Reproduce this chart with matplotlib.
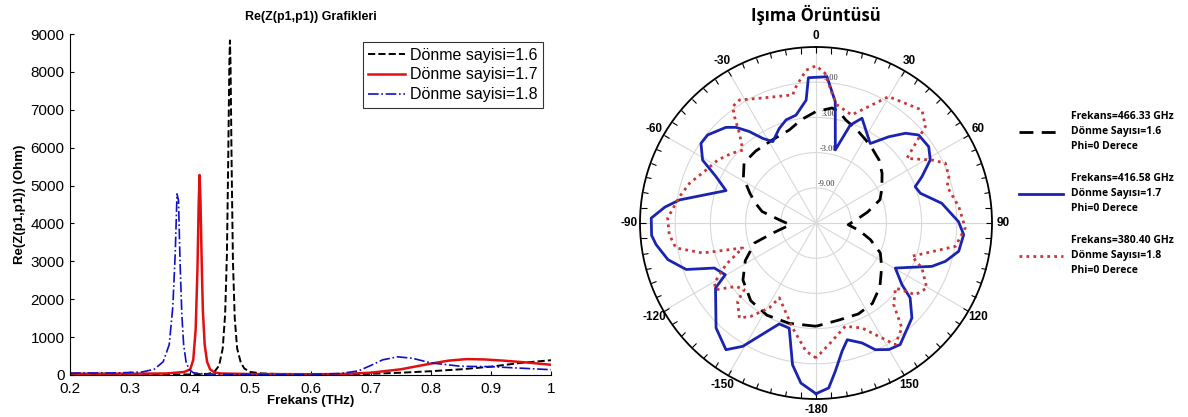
import numpy as np
import matplotlib.pyplot as plt

# --- left panel: Re(Z(p1,p1)) vs frequency (THz) ---
freq_16 = [0.2, 0.3, 0.4, 0.43, 0.44, 0.448, 0.454, 0.458, 0.461, 0.463,
           0.465, 0.466, 0.467, 0.469, 0.471, 0.474, 0.478, 0.484, 0.49, 0.5,
           0.52, 0.55, 0.6, 0.65, 0.7, 0.75, 0.8, 0.85, 0.9, 0.95, 1.0]
re_16 = [15, 15, 15, 30, 80, 250, 700, 1600, 3200, 5500,
         8200, 8830, 8200, 5300, 3000, 1500, 700, 330, 170, 80,
         40, 25, 20, 20, 30, 60, 100, 150, 220, 320, 390]

freq_17 = [0.2, 0.3, 0.36, 0.39, 0.4, 0.405, 0.409, 0.412, 0.414, 0.4155,
           0.417, 0.419, 0.421, 0.424, 0.428, 0.433, 0.44, 0.45, 0.5, 0.6,
           0.65, 0.7, 0.75, 0.8, 0.83, 0.86, 0.89, 0.92, 0.96, 1.0]
re_17 = [35, 35, 40, 80, 150, 400, 1200, 2800, 4500, 5280,
         4600, 3000, 1700, 800, 350, 150, 70, 40, 25, 20,
         25, 60, 150, 300, 380, 420, 410, 380, 330, 270]

freq_18 = [0.2, 0.28, 0.32, 0.34, 0.355, 0.365, 0.371, 0.375, 0.378, 0.3805,
           0.383, 0.386, 0.389, 0.393, 0.398, 0.405, 0.42, 0.45, 0.5, 0.6,
           0.65, 0.68, 0.7, 0.72, 0.745, 0.77, 0.8, 0.85, 0.9, 0.95, 1.0]
re_18 = [50, 55, 80, 150, 350, 800, 1800, 3200, 4780, 4600,
         3000, 1600, 800, 350, 150, 60, 30, 20, 15, 15,
         40, 110, 250, 400, 480, 440, 320, 230, 220, 180, 140]

left_labels = ['Dönme sayisi=1.6', 'Dönme sayisi=1.7', 'Dönme sayisi=1.8']
x_ticks = [0.2, 0.3, 0.4, 0.5, 0.6, 0.7, 0.8, 0.9, 1.0]
x_ticklabels = ['0.2', '0.3', '0.4', '0.5', '0.6', '0.7', '0.8', '0.9', '1']

# --- right panel: radiation pattern (dB) ---
ang_16 = [-180, -165, -152, -140, -128, -118, -108, -103, -94, -85,
          -78, -72, -66, -58, -50, -40, -28, -16, -8, 0,
          8, 12, 16, 24, 31, 38, 45, 53, 63, 70,
          78, 85, 93, 100, 107, 115, 124, 135, 145, 155,
          167, 180]
db_16 = [2.6, 2.7, 2.8, 2.3, 0.8, -1.35, -4.0, -7.5, -10.6, -8.7,
         -5.6, -4.2, -2.7, -0.4, 1.0, 1.0, 1.0, 1.5, 2.8, 4.0,
         4.8, 4.3, 3.3, 2.3, 1.5, 0.8, 0.2, -0.9, -2.4, -3.4,
         -6.0, -8.0, -9.5, -7.5, -5.3, -2.9, -1.5, 0.4, 1.75, 2.1,
         2.0, 2.6]

ang_17 = [-180, -174.6, -170.6, -165.7, -160, -149.3, -144.6, -136.4, -122.9, -119.7,
          -113.9, -109.7, -103.9, -97.7, -94.3, -88.3, -84, -80.4, -70.2, -65.1,
          -61, -55.3, -50.9, -43.3, -39.9, -36.1, -32.2, -28, -21.2, -16.2,
          -10.5, -4.6, -3, 4.3, 9, 14.8, 19.3, 23.7, 34.3, 40.1,
          44.9, 49.4, 55.9, 61.1, 66.4, 69.9, 74.1, 81.1, 89.5, 94.5,
          101.2, 106.5, 110.5, 119.6, 125.6, 128.5, 134.7, 145.3, 150, 154.9,
          159, 165, 168.5, 172.6, 175.6, 180]
db_17 = [14.1, 12.4, 9.5, 3.5, 3.3, 9.45, 11.5, 9.7, 5.4, 2.8,
         3.95, 8.5, 11.0, 12.5, 13.1, 13.1, 10.9, 8.6, 1.3, 3.8,
         7.1, 8.85, 8.8, 7.4, 6.25, 4.3, 2.05, 0.7, 2.3, 3.3,
         3.7, 6.0, 9.8, 10.0, 5.95, -2.1, 2.7, 4.5, 1.4, 4.2,
         6.6, 8.05, 8.2, 7.25, 4.7, 3.0, 3.5, 6.7, 9.3, 10.25,
         9.8, 8.0, 6.1, 0.55, 3.0, 5.5, 8.0, 10.2, 9.9, 8.85,
         6.9, 5.6, 7.3, 10.5, 13.2, 14.1]

ang_18 = [-180, -175.5, -167.5, -153.9, -151.2, -145.1, -141.1, -135, -132.9, -128.4,
          -123.7, -120.5, -114.8, -108.8, -104.8, -100.1, -94.5, -88.1, -79.1, -72.6,
          -64.3, -57.4, -50.7, -45.1, -40.5, -37.5, -35.6, -31.9, -24.4, -17.6,
          -10.3, -8.3, -3.7, 0, 3.4, 7.8, 10.4, 18.3, 29.9, 43.2,
          48.6, 54.6, 61.5, 65.2, 70.7, 74.5, 83.5, 91.9, 99.5, 109.1,
          113, 120.4, 125.8, 129.3, 136.4, 140.7, 146.9, 156.3, 164.2, 174,
          180]
db_18 = [8.0, 6.9, 3.35, -0.8, 1.5, 4.4, 5.8, 3.9, 1.7, 2.4,
         5.5, 5.1, 1.9, -1.8, 5.0, 9.25, 10.1, 10.3, 8.7, 7.6,
         5.8, 4.9, 3.7, 2.6, 5.1, 7.8, 9.4, 9.7, 8.35, 7.6,
         7.2, 8.5, 11.1, 11.8, 10.6, 6.7, 5.4, 4.4, 9.85, 11.4,
         9.85, 4.0, 7.5, 9.3, 9.0, 8.2, 9.5, 10.45, 9.1, 2.3,
         4.6, 6.9, 5.9, 2.5, 4.2, 8.1, 9.75, 4.55, 3.3, 5.85,
         8.0]

polar_labels = ['Frekans=466.33 GHz\nDönme Sayısı=1.6\nPhi=0 Derece',
                'Frekans=416.58 GHz\nDönme Sayısı=1.7\nPhi=0 Derece',
                'Frekans=380.40 GHz\nDönme Sayısı=1.8\nPhi=0 Derece']
angle_ticklabels = ['0', '30', '60', '90', '120', '150',
                    '-180', '-150', '-120', '-90', '-60', '-30']
r_ticks = [-9, -3, 3, 9]
r_ticklabels = ['-9.00', '-3.00', '3.00', '9.00']

W, H = 1188, 417
fig = plt.figure(figsize=(W / 100, H / 100), dpi=100)
plt.rcParams['font.family'] = ['Liberation Sans', 'DejaVu Sans']

# left cartesian plot
ax1 = fig.add_axes([70 / W, 42 / H, 481 / W, 341 / H])
ax1.plot(freq_16, re_16, color='black', ls='--', lw=1.4, label=left_labels[0])
ax1.plot(freq_17, re_17, color='#e01010', ls='-', lw=1.8, label=left_labels[1])
ax1.plot(freq_18, re_18, color='#1010c8', ls='-.', lw=1.2, label=left_labels[2])
ax1.set_xlim(0.2, 1.0)
ax1.set_ylim(0, 9000)
ax1.set_xticks(x_ticks)
ax1.set_xticklabels(x_ticklabels)
ax1.set_yticks(range(0, 9001, 1000))
ax1.tick_params(direction='in', labelsize=11, length=3)
ax1.tick_params(axis='x', pad=5)
ax1.tick_params(axis='y', pad=4)
ax1.spines['top'].set_visible(False)
ax1.spines['right'].set_visible(False)
ax1.set_title('Re(Z(p1,p1)) Grafikleri', fontsize=9, fontweight='bold', pad=10)
ax1.set_xlabel('Frekans (THz)', fontsize=9.5, fontweight='bold', labelpad=-1)
ax1.set_ylabel('Re(Z(p1,p1)) (Ohm)', fontsize=9.5, fontweight='bold', labelpad=3)
leg = ax1.legend(loc='upper right', fontsize=11.5, fancybox=False, edgecolor='black',
                 handlelength=2.3, handletextpad=0.3, labelspacing=0.3,
                 borderpad=0.35, borderaxespad=0.5, bbox_to_anchor=(1.0, 1.0))
leg.get_frame().set_linewidth(0.8)

# right polar plot
ax2 = fig.add_axes([640 / W, 18 / H, 352 / W, 352 / H], projection='polar')
ax2.set_theta_zero_location('N')
ax2.set_theta_direction(-1)
l16, = ax2.plot(np.deg2rad(ang_16), db_16, color='black', lw=2, dashes=(5, 3), zorder=3)
l17, = ax2.plot(np.deg2rad(ang_17), db_17, color='#1a24b0', lw=2, zorder=3)
l18, = ax2.plot(np.deg2rad(ang_18), db_18, color='#c8383a', lw=2, ls=(0, (1, 1.5)), zorder=3)
ax2.set_ylim(-15, 15)
ax2.set_yticks(r_ticks)
ax2.set_yticklabels(r_ticklabels, fontsize=6, family='Liberation Serif', color='#333333')
ax2.set_rlabel_position(3)
ax2.set_xticks(np.deg2rad(np.arange(0, 360, 30)))
ax2.set_xticklabels(angle_ticklabels, fontsize=8.5, fontweight='bold')
ax2.set_xticks(np.deg2rad(np.arange(0, 360, 5)), minor=True)
ax2.tick_params(axis='x', which='both', top=True, bottom=False,
                direction='in', length=4, width=0.8, pad=1)
ax2.grid(True, color='#d8d8d8', lw=0.8)
ax2.spines['polar'].set_linewidth(1.3)
ax2.set_title('Işıma Örüntüsü', fontsize=12, fontweight='bold',
              family=['Open Sans', 'DejaVu Sans'], pad=19)

pleg = fig.legend([l16, l17, l18], polar_labels, loc='upper left',
                  bbox_to_anchor=(1010 / W, 1 - 102 / H), frameon=False,
                  prop={'family': ['Open Sans', 'DejaVu Sans'], 'weight': 'bold', 'size': 7.5},
                  handlelength=4.2, handletextpad=0.8, labelspacing=2.0)
for t in pleg.get_texts():
    t.set_linespacing(1.5)

fig.savefig('out.png', dpi=100)
